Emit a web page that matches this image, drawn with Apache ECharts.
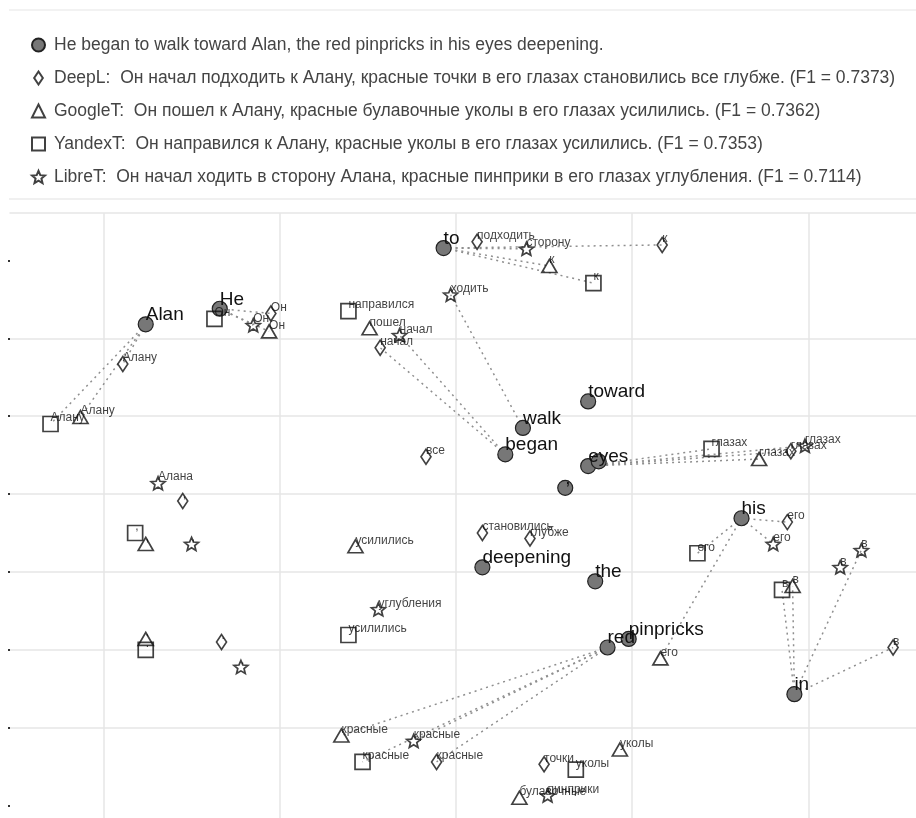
<!DOCTYPE html>
<html>
<head>
<meta charset="utf-8">
<script src="https://cdn.jsdelivr.net/npm/echarts@6/dist/echarts.min.js"></script>
<style>
html,body{margin:0;padding:0;background:#fff;}
#chart{width:916px;height:818px;}
</style>
</head>
<body>
<div id="chart"></div>
<script>
// ---------- DATA ----------
const legendNames = [
  "He began to walk toward Alan, the red pinpricks in his eyes deepening.",
  "DeepL:  Он начал подходить к Алану, красные точки в его глазах становились все глубже. (F1 = 0.7373)",
  "GoogleT:  Он пошел к Алану, красные булавочные уколы в его глазах усилились. (F1 = 0.7362)",
  "YandexT:  Он направился к Алану, красные уколы в его глазах усилились. (F1 = 0.7353)",
  "LibreT:  Он начал ходить в сторону Алана, красные пинприки в его глазах углубления. (F1 = 0.7114)"
];

const engWords = ['He','began','to','walk','toward','Alan',',','the','red','pinpricks','in','his','eyes','deepening','.'];
const engX = [-1.34, 0.28, -0.07, 0.38, 0.75, -1.76, 0.62, 0.79, 0.86, 0.98, 1.92, 1.62, 0.75, 0.15, 0.81];
const engY = [2.38, 0.51, 3.16, 0.85, 1.19, 2.18, 0.08, -1.12, -1.97, -1.86, -2.57, -0.31, 0.36, -0.94, 0.42];

const deeplWords = ['Он','начал','подходить','к','Алану',',','красные','точки','в','его','глазах','становились','все','глубже','.'];
const deeplX = [-1.05, -0.43, 0.12, 1.17, -1.89, -1.55, -0.11, 0.50, 2.48, 1.88, 1.90, 0.15, -0.17, 0.42, -1.33];
const deeplY = [2.32, 1.88, 3.24, 3.20, 1.67, -0.09, -3.44, -3.47, -1.97, -0.36, 0.55, -0.50, 0.48, -0.57, -1.90];
const deeplAlign = [[0,0],[1,1],[2,3],[5,4],[8,6],[10,8],[11,9],[12,10]];

const googleWords = ['Он','пошел','к','Алану',',','красные','булавочные','уколы','в','его','глазах','усилились','.'];
const googleX = [-1.06, -0.49, 0.53, -2.13, -1.76, -0.65, 0.36, 0.93, 1.91, 1.16, 1.72, -0.57, -1.76];
const googleY = [2.09, 2.13, 2.93, 0.99, -0.64, -3.10, -3.90, -3.28, -1.18, -2.11, 0.45, -0.67, -1.86];
const googleAlign = [[0,0],[2,2],[5,3],[8,5],[10,8],[11,9],[12,10]];

const yandexWords = ['Он','направился','к','Алану',',','красные','уколы','в','его','глазах','усилились','.'];
const yandexX = [-1.37, -0.61, 0.78, -2.30, -1.82, -0.53, 0.68, 1.85, 1.37, 1.45, -0.61, -1.76];
const yandexY = [2.25, 2.35, 2.71, 0.90, -0.50, -3.44, -3.54, -1.23, -0.76, 0.58, -1.81, -2.00];
const yandexAlign = [[0,0],[2,2],[5,3],[8,5],[10,7],[11,8],[12,9]];

const libreWords = ['Он','начал','ходить','в','сторону','Алана',',','красные','пинприки','в','его','глазах','углубления','.'];
const libreX = [-1.15, -0.32, -0.03, 2.18, 0.40, -1.69, -1.50, -0.24, 0.52, 2.30, 1.80, 1.98, -0.44, -1.22];
const libreY = [2.17, 2.04, 2.56, -0.94, 3.15, 0.14, -0.64, -3.17, -3.87, -0.72, -0.64, 0.62, -1.48, -2.22];
const libreAlign = [[0,0],[1,1],[3,2],[2,4],[8,7],[10,9],[11,10],[12,11]];

const yTickValues = [-4, -3, -2, -1, 0, 1, 2, 3];

// ---------- STYLE / BUILD ----------
const FONT = "'Liberation Sans', Arial, Helvetica, sans-serif";

function starPath(inner) {
  const pts = [];
  for (let k = 0; k < 10; k++) {
    const a = (-90 + 36 * k) * Math.PI / 180;
    const r = (k % 2) ? inner : 1;
    pts.push((Math.cos(a) * r).toFixed(4) + ',' + (Math.sin(a) * r).toFixed(4));
  }
  return 'path://M' + pts.join('L') + 'Z';
}
const STAR = starPath(0.45);
const DIAMOND = 'path://M0,-1.5L1,0L0,1.5L-1,0Z';

function pts(words, xs, ys) {
  return words.map((w, i) => ({ value: [xs[i], ys[i]], name: w }));
}
function links(align, tx, ty) {
  return align.map(([e, t]) => ({ coords: [[engX[e], engY[e]], [tx[t], ty[t]]] }));
}

const openStyle = { color: 'rgba(255,255,255,0)', borderColor: '#111', borderWidth: 1.7 };
const smallLabel = {
  show: true, formatter: '{b}', position: ['50%', '50%'], align: 'left', verticalAlign: 'bottom',
  fontSize: 12, color: '#111', fontFamily: FONT
};

const lineData = [].concat(
  links(deeplAlign, deeplX, deeplY),
  links(googleAlign, googleX, googleY),
  links(yandexAlign, yandexX, yandexY),
  links(libreAlign, libreX, libreY)
);

const option = {
  animation: false,
  backgroundColor: '#fff',
  graphic: [
    { type: 'line', shape: { x1: 9, y1: 10, x2: 916, y2: 10 }, style: { stroke: '#eeeeee', lineWidth: 1.5 }, silent: true },
    { type: 'line', shape: { x1: 9, y1: 199, x2: 916, y2: 199 }, style: { stroke: '#f0f0f0', lineWidth: 2 }, silent: true }
  ],
  legend: {
    orient: 'vertical', left: 26, top: 30,
    itemWidth: 13, itemHeight: 13, itemGap: 13,
    selectedMode: false,
    textStyle: { fontSize: 17.5, color: '#444', fontFamily: FONT, lineHeight: 20, padding: [0, 0, 0, 4] },
    data: [
      { name: legendNames[0], icon: 'circle' },
      { name: legendNames[1], icon: DIAMOND },
      { name: legendNames[2], icon: 'triangle' },
      { name: legendNames[3], icon: 'rect' },
      { name: legendNames[4], icon: STAR }
    ]
  },
  grid: { left: 10, right: 0, top: 213, bottom: 0 },
  xAxis: {
    type: 'value', min: -2.53, max: 2.61, splitNumber: 5, position: 'top',
    axisLine: { show: true, onZero: false, lineStyle: { color: '#e6e6e6', width: 1.5 } },
    axisTick: { show: false }, axisLabel: { show: false },
    splitLine: { show: true, showMinLine: false, showMaxLine: false, lineStyle: { color: '#e6e6e6', width: 1.5 } }
  },
  yAxis: {
    type: 'value', min: -4.16, max: 3.61, splitNumber: 8,
    axisLine: { show: false, onZero: false },
    axisTick: { show: true, length: 2, customValues: yTickValues, lineStyle: { color: '#333', width: 2 } },
    axisLabel: { show: false },
    splitLine: { show: true, showMinLine: false, showMaxLine: false, lineStyle: { color: '#e6e6e6', width: 1.5 } }
  },
  series: [
    {
      type: 'lines', coordinateSystem: 'cartesian2d', polyline: false, silent: true, z: 1,
      lineStyle: { color: '#8f8f8f', width: 1.5, type: [2, 4], opacity: 1 },
      data: lineData
    },
    {
      name: legendNames[0], type: 'scatter', z: 3, symbol: 'circle', symbolSize: 15,
      itemStyle: { color: '#777777', borderColor: '#222', borderWidth: 1.2, opacity: 1 },
      label: Object.assign({}, smallLabel, { fontSize: 19 }),
      emphasis: { disabled: true },
      data: pts(engWords, engX, engY)
    },
    {
      name: legendNames[1], type: 'scatter', z: 3, symbol: DIAMOND, symbolSize: [10, 15],
      itemStyle: openStyle, label: smallLabel, emphasis: { disabled: true },
      data: pts(deeplWords, deeplX, deeplY)
    },
    {
      name: legendNames[2], type: 'scatter', z: 3, symbol: 'triangle', symbolSize: [15, 13],
      itemStyle: openStyle, label: smallLabel, emphasis: { disabled: true },
      data: pts(googleWords, googleX, googleY)
    },
    {
      name: legendNames[3], type: 'scatter', z: 3, symbol: 'rect', symbolSize: 15,
      itemStyle: openStyle, label: smallLabel, emphasis: { disabled: true },
      data: pts(yandexWords, yandexX, yandexY)
    },
    {
      name: legendNames[4], type: 'scatter', z: 3, symbol: STAR, symbolSize: [14, 13],
      itemStyle: openStyle, label: smallLabel, emphasis: { disabled: true },
      data: pts(libreWords, libreX, libreY)
    }
  ]
};

const chart = echarts.init(document.getElementById('chart'), null, { renderer: 'canvas' });
chart.setOption(option);
</script>
</body>
</html>
